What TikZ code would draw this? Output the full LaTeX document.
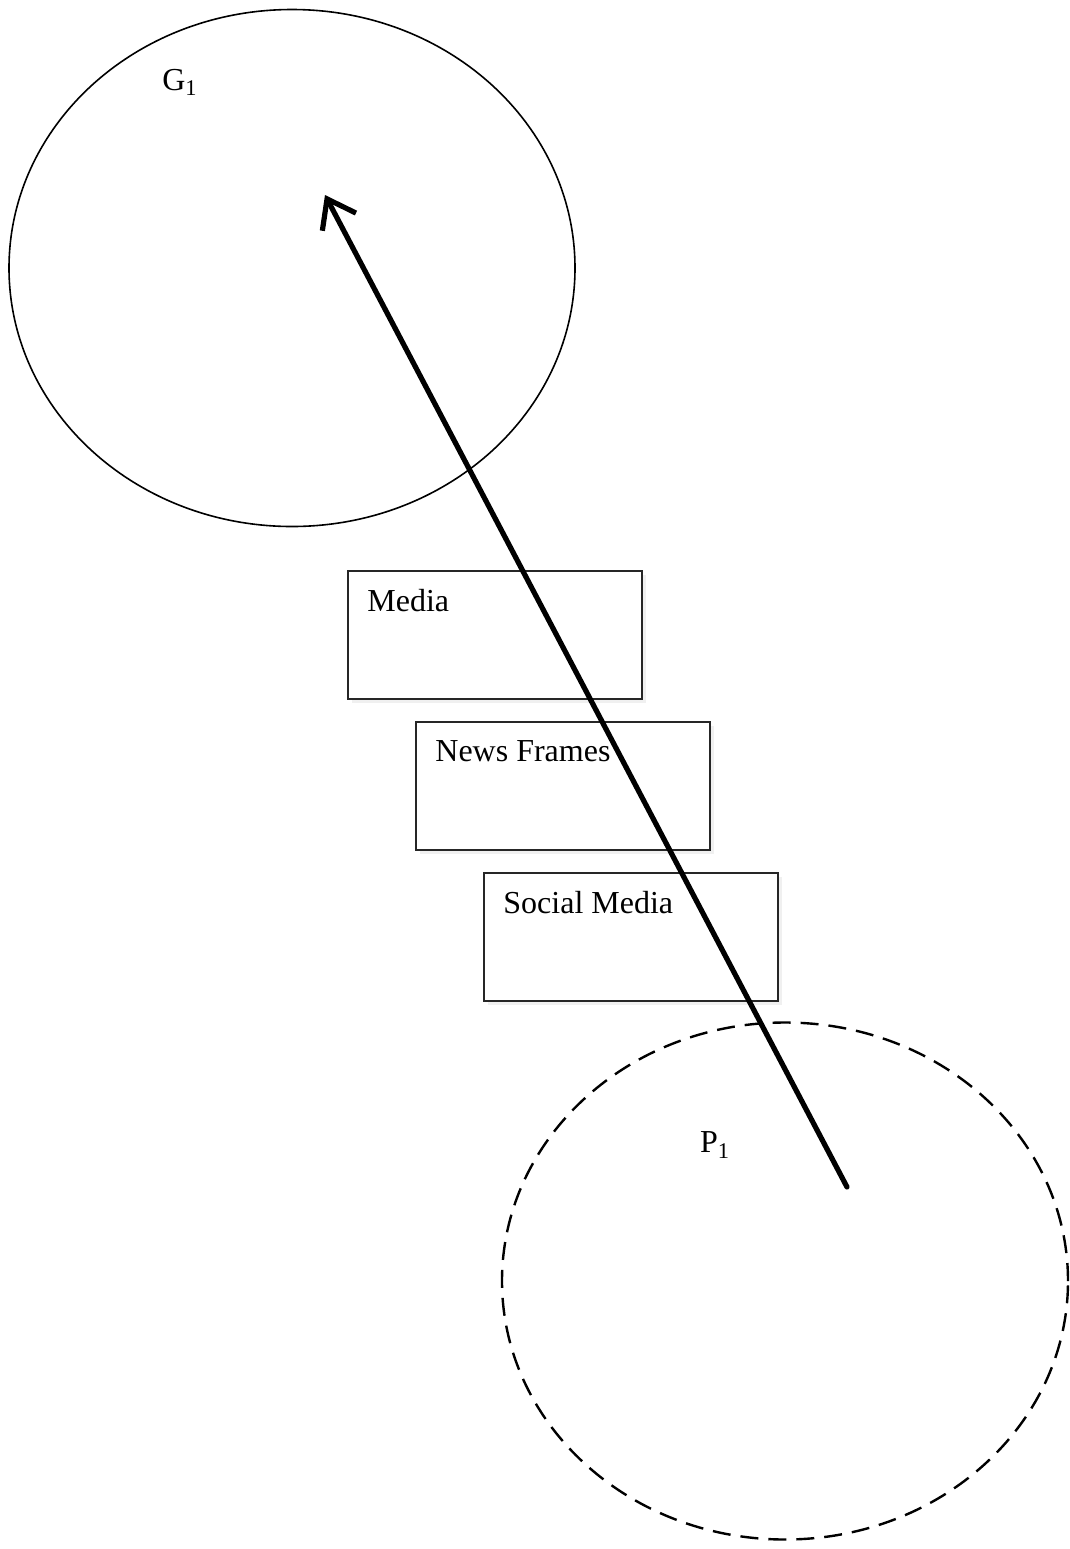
\documentclass[tikz,border=0pt]{standalone}
\usepackage{fontspec}
\setmainfont{Liberation Serif}
\usetikzlibrary{arrows.meta,positioning,shapes.geometric,shadows}
\tikzset{cloud/.style={ellipse,draw=black,line width=0.8pt,minimum width=283pt,minimum height=258.5pt}, public/.style={cloud,line width=1.2pt,dash pattern=on 9pt off 5pt}, frame/.style={draw=black!85,line width=1pt,fill=white,minimum width=147pt,minimum height=64pt,drop shadow={opacity=0.12,shadow xshift=2pt,shadow yshift=-2pt}}, tag/.style={anchor=north west,inner sep=0pt,font=\fontsize{16}{19}\selectfont}, glabel/.style={inner sep=0pt,font=\fontsize{16}{19}\selectfont}, influence/.style={-{Straight Barb[length=13pt,width=19pt]},line width=2.6pt,line cap=round}}

\begin{document}
\begin{tikzpicture}[x=0.5pt,y=-0.5pt,node distance=10.5pt]
\useasboundingbox (0,0) rectangle (1070,1549);
\node[cloud] (gov) at (292,268) {};
\node[public] (pub) at (785,1281) {};
\node[glabel] (gl) at (180,82) {G\textsubscript{1}};
\node[glabel] (pl) at (715,1145) {P\textsubscript{1}};
\node[frame] (media) at (495,635) {};
\node[frame,below=of media,xshift=34pt] (news) {};
\node[frame,below=of news,xshift=34pt] (social) {};
\node[tag] (ml) at ([shift={(20,19)}]media.north west) {Media};
\node[tag] (nl) at ([shift={(20,19)}]news.north west) {News Frames};
\node[tag] (sl) at ([shift={(20,19)}]social.north west) {Social Media};
\coordinate (from) at (847,1187);\coordinate (to) at (325,195);
\draw[influence] (from)--(to);
\end{tikzpicture}
\end{document}
